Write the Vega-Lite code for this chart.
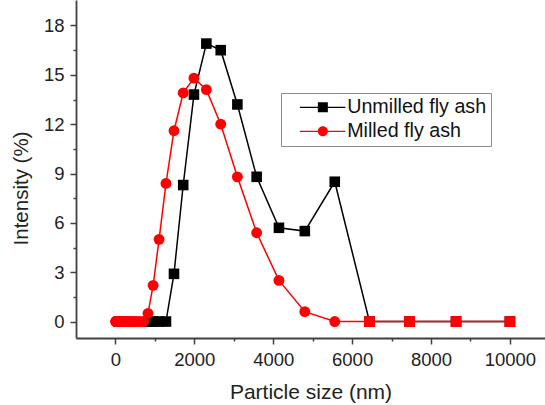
{
  "$schema": "https://vega.github.io/schema/vega-lite/v6.json",
  "width": 469,
  "height": 338,
  "autosize": {"type": "none"},
  "padding": {"left": 76, "top": 0, "right": 0, "bottom": 67},
  "background": "white",
  "config": {
    "view": {"stroke": null},
    "font": "Liberation Sans",
    "axis": {
      "grid": false,
      "domainColor": "#404040",
      "domainWidth": 1.8,
      "tickColor": "#404040",
      "tickWidth": 1.5,
      "labelFont": "Liberation Sans",
      "labelFontSize": 18.5,
      "labelColor": "#222222",
      "titleFont": "Liberation Sans",
      "titleFontWeight": "normal",
      "titleColor": "#222222",
      "labelFlush": false,
      "labelOverlap": false
    }
  },
  "data": {
    "values": [
      {"size": 825, "series": "Unmilled fly ash", "intensity": 0},
      {"size": 955.4, "series": "Unmilled fly ash", "intensity": 0},
      {"size": 1106, "series": "Unmilled fly ash", "intensity": 0},
      {"size": 1281, "series": "Unmilled fly ash", "intensity": 0},
      {"size": 1484, "series": "Unmilled fly ash", "intensity": 2.9},
      {"size": 1718, "series": "Unmilled fly ash", "intensity": 8.3},
      {"size": 1990, "series": "Unmilled fly ash", "intensity": 13.8},
      {"size": 2305, "series": "Unmilled fly ash", "intensity": 16.9},
      {"size": 2669, "series": "Unmilled fly ash", "intensity": 16.5},
      {"size": 3091, "series": "Unmilled fly ash", "intensity": 13.2},
      {"size": 3580, "series": "Unmilled fly ash", "intensity": 8.8},
      {"size": 4145, "series": "Unmilled fly ash", "intensity": 5.7},
      {"size": 4801, "series": "Unmilled fly ash", "intensity": 5.5},
      {"size": 5560, "series": "Unmilled fly ash", "intensity": 8.5},
      {"size": 6439, "series": "Unmilled fly ash", "intensity": 0},
      {"size": 7456, "series": "Unmilled fly ash", "intensity": 0},
      {"size": 8635, "series": "Unmilled fly ash", "intensity": 0},
      {"size": 10000, "series": "Unmilled fly ash", "intensity": 0},
      {"size": 10.1, "series": "Milled fly ash", "intensity": 0},
      {"size": 11.7, "series": "Milled fly ash", "intensity": 0},
      {"size": 13.54, "series": "Milled fly ash", "intensity": 0},
      {"size": 15.69, "series": "Milled fly ash", "intensity": 0},
      {"size": 18.17, "series": "Milled fly ash", "intensity": 0},
      {"size": 21.04, "series": "Milled fly ash", "intensity": 0},
      {"size": 24.36, "series": "Milled fly ash", "intensity": 0},
      {"size": 28.21, "series": "Milled fly ash", "intensity": 0},
      {"size": 32.67, "series": "Milled fly ash", "intensity": 0},
      {"size": 37.84, "series": "Milled fly ash", "intensity": 0},
      {"size": 43.82, "series": "Milled fly ash", "intensity": 0},
      {"size": 50.75, "series": "Milled fly ash", "intensity": 0},
      {"size": 58.77, "series": "Milled fly ash", "intensity": 0},
      {"size": 68.06, "series": "Milled fly ash", "intensity": 0},
      {"size": 78.82, "series": "Milled fly ash", "intensity": 0},
      {"size": 91.28, "series": "Milled fly ash", "intensity": 0},
      {"size": 105.7, "series": "Milled fly ash", "intensity": 0},
      {"size": 122.4, "series": "Milled fly ash", "intensity": 0},
      {"size": 141.8, "series": "Milled fly ash", "intensity": 0},
      {"size": 164.2, "series": "Milled fly ash", "intensity": 0},
      {"size": 190.1, "series": "Milled fly ash", "intensity": 0},
      {"size": 220.2, "series": "Milled fly ash", "intensity": 0},
      {"size": 255, "series": "Milled fly ash", "intensity": 0},
      {"size": 295.3, "series": "Milled fly ash", "intensity": 0},
      {"size": 342, "series": "Milled fly ash", "intensity": 0},
      {"size": 396.1, "series": "Milled fly ash", "intensity": 0},
      {"size": 458.7, "series": "Milled fly ash", "intensity": 0},
      {"size": 531.2, "series": "Milled fly ash", "intensity": 0},
      {"size": 615.1, "series": "Milled fly ash", "intensity": 0},
      {"size": 712.4, "series": "Milled fly ash", "intensity": 0},
      {"size": 825, "series": "Milled fly ash", "intensity": 0.5},
      {"size": 955.4, "series": "Milled fly ash", "intensity": 2.2},
      {"size": 1106, "series": "Milled fly ash", "intensity": 5.0},
      {"size": 1281, "series": "Milled fly ash", "intensity": 8.4},
      {"size": 1484, "series": "Milled fly ash", "intensity": 11.6},
      {"size": 1718, "series": "Milled fly ash", "intensity": 13.9},
      {"size": 1990, "series": "Milled fly ash", "intensity": 14.8},
      {"size": 2305, "series": "Milled fly ash", "intensity": 14.1},
      {"size": 2669, "series": "Milled fly ash", "intensity": 12.0},
      {"size": 3091, "series": "Milled fly ash", "intensity": 8.8},
      {"size": 3580, "series": "Milled fly ash", "intensity": 5.4},
      {"size": 4145, "series": "Milled fly ash", "intensity": 2.5},
      {"size": 4801, "series": "Milled fly ash", "intensity": 0.6},
      {"size": 5560, "series": "Milled fly ash", "intensity": 0},
      {"size": 6439, "series": "Milled fly ash", "intensity": 0},
      {"size": 7456, "series": "Milled fly ash", "intensity": 0},
      {"size": 8635, "series": "Milled fly ash", "intensity": 0},
      {"size": 10000, "series": "Milled fly ash", "intensity": 0}
    ]
  },
  "resolve": {"axis": {"x": "independent", "y": "independent"}},
  "layer": [
    {
      "transform": [{"filter": "datum.series === 'Unmilled fly ash'"}],
      "mark": {"type": "line", "color": "#000000", "strokeWidth": 1.5},
      "encoding": {
        "x": {
          "field": "size", "type": "quantitative",
          "scale": {"domain": [-1000, 10890], "nice": false, "zero": false},
          "axis": {
            "orient": "bottom",
            "values": [0, 2000, 4000, 6000, 8000, 10000],
            "format": "d",
            "tickSize": 6,
            "labelPadding": 6,
            "title": "Particle size (nm)",
            "titleFontSize": 21,
            "titleBaseline": "alphabetic",
            "titleY": 60
          }
        },
        "y": {
          "field": "intensity", "type": "quantitative",
          "scale": {"domain": [-1, 19.55], "nice": false, "zero": false},
          "axis": {
            "orient": "left",
            "values": [0, 3, 6, 9, 12, 15, 18],
            "tickSize": 6,
            "labelPadding": 6,
            "title": "Intensity (%)",
            "titleFontSize": 20.5,
            "titleAngle": 270,
            "titleAlign": "center",
            "titleBaseline": "alphabetic",
            "titleX": -49,
            "titleY": 188
          }
        }
      }
    },
    {
      "transform": [{"filter": "datum.series === 'Unmilled fly ash'"}],
      "mark": {"type": "point", "shape": "square", "filled": true, "color": "#000000", "opacity": 1, "size": 112},
      "encoding": {
        "x": {
          "field": "size", "type": "quantitative",
          "scale": {"domain": [-1000, 10890], "nice": false, "zero": false},
          "axis": {
            "orient": "bottom",
            "values": [1000, 3000, 5000, 7000, 9000],
            "tickSize": 3,
            "labels": false,
            "domain": false,
            "title": null
          }
        },
        "y": {
          "field": "intensity", "type": "quantitative",
          "scale": {"domain": [-1, 19.55], "nice": false, "zero": false},
          "axis": {
            "orient": "left",
            "values": [1.5, 4.5, 7.5, 10.5, 13.5, 16.5],
            "tickSize": 3,
            "labels": false,
            "domain": false,
            "title": null
          }
        }
      }
    },
    {
      "transform": [{"filter": "datum.series === 'Milled fly ash'"}],
      "mark": {"type": "line", "color": "#ff0000", "strokeWidth": 1.5},
      "encoding": {
        "x": {"field": "size", "type": "quantitative", "scale": {"domain": [-1000, 10890], "nice": false, "zero": false}, "axis": null},
        "y": {"field": "intensity", "type": "quantitative", "scale": {"domain": [-1, 19.55], "nice": false, "zero": false}, "axis": null}
      }
    },
    {
      "transform": [{"filter": "datum.series === 'Milled fly ash'"}],
      "mark": {"type": "point", "filled": true, "color": "#ff0000", "opacity": 1, "size": 118},
      "encoding": {
        "x": {"field": "size", "type": "quantitative", "scale": {"domain": [-1000, 10890], "nice": false, "zero": false}, "axis": null},
        "y": {"field": "intensity", "type": "quantitative", "scale": {"domain": [-1, 19.55], "nice": false, "zero": false}, "axis": null},
        "shape": {"condition": {"test": "datum.size > 6000", "value": "square"}, "value": "circle"}
      }
    },
    {
      "transform": [{"filter": "false"}],
      "mark": {"type": "point", "filled": true, "opacity": 1},
      "encoding": {
        "color": {
          "field": "series", "type": "nominal",
          "scale": {"domain": ["Unmilled fly ash", "Milled fly ash"], "range": ["#000000", "#ff0000"]},
          "legend": {
            "title": null,
            "orient": "none",
            "legendX": 205,
            "legendY": 93,
            "fillColor": "white",
            "strokeColor": "#8c8c8c",
            "padding": 4.5,
            "labelFont": "Liberation Sans",
            "labelFontSize": 19.7,
            "labelColor": "#111111",
            "labelLimit": 300,
            "labelOffset": 42,
            "symbolSize": 100,
            "symbolStrokeWidth": 0,
            "rowPadding": 3
          }
        },
        "shape": {
          "field": "series", "type": "nominal",
          "scale": {
            "domain": ["Unmilled fly ash", "Milled fly ash"],
            "range": [
              "M-1,0Z M0.9,-0.14H10V0.14H0.9Z M4.5,-1H6.5V1H4.5Z",
              "M-1,0Z M0.9,-0.14H10V0.14H0.9Z M6.5,0A1,1 0 1,1 4.5,0A1,1 0 1,1 6.5,0Z"
            ]
          },
          "legend": {
            "title": null,
            "orient": "none",
            "legendX": 205,
            "legendY": 93,
            "fillColor": "white",
            "strokeColor": "#8c8c8c",
            "padding": 4.5,
            "labelFont": "Liberation Sans",
            "labelFontSize": 19.7,
            "labelColor": "#111111",
            "labelLimit": 300,
            "labelOffset": 42,
            "symbolSize": 100,
            "symbolStrokeWidth": 0,
            "rowPadding": 3
          }
        }
      }
    }
  ]
}
